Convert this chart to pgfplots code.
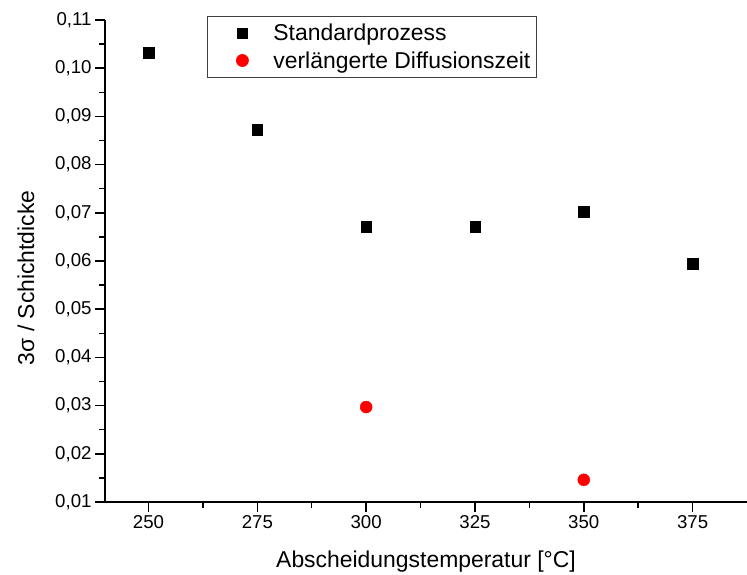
\documentclass[border=0pt]{standalone}
\usepackage{pgfplots}
\pgfplotsset{compat=1.18}
\usepackage{fontspec}
\setmainfont{Liberation Sans}
\begin{document}
\begin{tikzpicture}
\begin{axis}[
  scale only axis, width=642bp, height=482bp,
  xmin=240, xmax=387.5, ymin=0.01, ymax=0.11,
  axis lines*=left,
  axis line style={line width=1.5bp},
  xtick={250,275,300,325,350,375},
  ytick={0.01,0.02,0.03,0.04,0.05,0.06,0.07,0.08,0.09,0.10,0.11},
  minor x tick num=1, minor y tick num=1,
  tick align=outside, major tick length=10bp, minor tick length=6bp,
  tick style={line width=1.5bp, black},
  /pgf/number format/assume math mode=true,
  y tick label style={/pgf/number format/.cd, fixed, fixed zerofill, precision=2, use comma},
  x tick label style={/pgf/number format/.cd, fixed, precision=0, set thousands separator={}},
  tick label style={font=\fontsize{18.7}{20}\selectfont},
  xlabel={Abscheidungstemperatur [°C]},
  ylabel={3σ / Schichtdicke},
  label style={font=\fontsize{23}{26}\selectfont},
  x label style={at={(axis description cs:0.5,-0.1245)}, anchor=center},
  y label style={at={(axis description cs:-0.123,0.465)}, anchor=center},
  legend style={at={(rel axis cs:0.1589,1.0083)}, anchor=north west,
    draw=black!75, line width=0.8bp, font=\fontsize{23}{26}\selectfont,
    row sep=5bp, inner xsep=4bp, inner ysep=6bp},
  legend cell align=left,
  legend image code/.code={\path[draw=none,fill=none] (-31bp,0bp) -- (29bp,0bp); \draw[#1] plot coordinates {(0bp,0bp)};},
  clip=false,
]
\addplot[only marks, mark=square*, mark size=5.2bp, mark options={fill=black, draw=black}]
  coordinates {(250,0.1032) (275,0.0872) (300,0.0671) (325,0.0671) (350,0.0702) (375,0.0594)};
\addlegendentry{Standardprozess}
\addplot[only marks, mark=*, mark size=6bp, mark options={fill=red, draw=red}]
  coordinates {(300,0.0297) (350,0.0146)};
\addlegendentry{verlängerte Diffusionszeit\hspace{14bp}}
\end{axis}
\pgfresetboundingbox
\useasboundingbox (-105bp,-73bp) rectangle (642bp,502bp);
\end{tikzpicture}
\end{document}
